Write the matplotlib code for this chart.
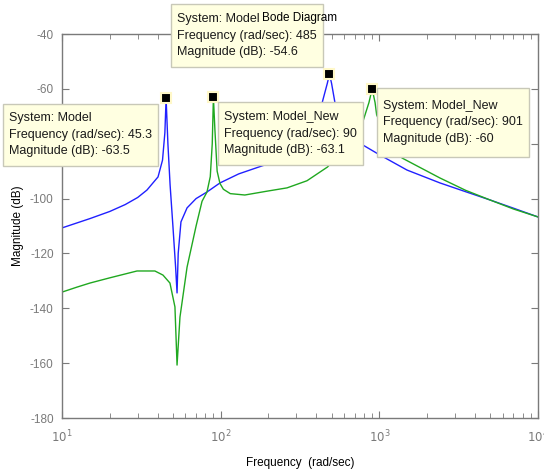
import matplotlib
matplotlib.use("Agg")
import matplotlib.pyplot as plt
from matplotlib.patches import Rectangle
from matplotlib.ticker import LogLocator, NullFormatter, FixedLocator

plt.rcParams['font.family'] = ['Liberation Sans', 'DejaVu Sans']

# ---- data ----
model_freq = [10, 15, 20, 25, 30, 34.3, 40.3, 43, 44.5, 45.3, 46.5, 48, 50, 52, 53.1,
              54, 56.2, 61.4, 70, 82, 99, 130, 182, 250, 330, 400, 441, 470, 485,
              500, 525, 560, 620, 700, 789, 1000, 1494, 2411, 3500, 4980, 7000, 10000]
model_db = [-110.7, -107.3, -104.7, -102.2, -99.6, -96.9, -92.1, -86, -76, -63.5, -80, -95,
            -110, -125, -134.4, -120, -108.5, -103.4, -100, -97.6, -94.3, -91, -88.1,
            -85.5, -82, -74, -64, -58, -54.6, -58, -65, -70, -74, -77.5, -80.5, -84,
            -89.6, -94.3, -97.5, -100.5, -103.5, -106.7]

new_freq = [10, 12.4, 15, 20, 29.7, 38.5, 43.3, 47.9, 51.5, 53.1, 55.4, 61.4, 70, 76.3, 82,
            86, 88.5, 90, 92, 95, 99, 104, 115, 142, 196, 262, 350, 471, 600, 700, 786,
            860, 901, 940, 962, 1100, 1389, 2411, 3500, 4980, 7000, 10000]
new_db = [-134.1, -132.3, -130.8, -128.9, -126.4, -126.4, -127.9, -130.8, -139.5, -160.7,
          -143.2, -125, -110, -101, -97.6, -92, -80, -63.1, -75, -90, -94.5, -96.6, -98.2,
          -98.7, -97.3, -96.1, -93.5, -88.5, -82, -77, -72.1, -65, -60, -65, -69.5, -77,
          -85.2, -92.5, -97, -100.5, -103.8, -106.7]

tip_system = ["Model", "Model", "Model_New", "Model_New"]
tip_freq = [45.3, 485, 90, 901]
tip_db = [-63.5, -54.6, -63.1, -60]
tip_freq_text = ["45.3", "485", "90", "901"]
tip_db_text = ["-63.5", "-54.6", "-63.1", "-60"]

y_ticks = [-180, -160, -140, -120, -100, -80, -60, -40]
x_ticks = [10, 100, 1000, 10000]
x_tick_labels = ["$10^{1}$", "$10^{2}$", "$10^{3}$", "$10^{4}$"]

# ---- figure ----
W, H = 544, 471
fig = plt.figure(figsize=(W / 100, H / 100), dpi=100)
L, R, T, B = 62, 538, 34, 418
ax = fig.add_axes([L / W, 1 - B / H, (R - L) / W, (B - T) / H])

gray = '#7a7a7a'
ax.semilogx(model_freq, model_db, color='#2020ff', lw=1.0)
ax.semilogx(new_freq, new_db, color='#20a820', lw=1.0)

ax.set_xlim(10, 10000)
ax.set_ylim(-180, -40)
ax.yaxis.set_major_locator(FixedLocator(y_ticks))
ax.set_yticklabels([str(v) for v in y_ticks])
ax.set_xticks(x_ticks)
ax.set_xticklabels(x_tick_labels)
ax.xaxis.set_minor_locator(LogLocator(base=10, subs=range(2, 10)))
ax.xaxis.set_minor_formatter(NullFormatter())

for s in ax.spines.values():
    s.set_color(gray)
    s.set_linewidth(1.0)
ax.tick_params(which='both', direction='in', top=True, right=True, colors=gray,
               labelcolor=gray, labelsize=8.5)
ax.tick_params(which='major', length=5)
ax.tick_params(which='minor', length=3.5)
ax.tick_params(axis='x', pad=8)
ax.tick_params(axis='y', pad=6)

ax.set_xlabel("Frequency  (rad/sec)", fontsize=8.5, color='black', labelpad=8)
ax.set_ylabel("Magnitude (dB)", fontsize=8.5, color='black', labelpad=4)

# datatip markers
ax.plot(tip_freq, tip_db, linestyle='none', marker='s', markersize=7.5,
        markerfacecolor='black', markeredgecolor='#fff8c8', markeredgewidth=1.5,
        clip_on=False, zorder=10)

# datatip boxes (pixel layout)
boxes = [(3, 104, 158, 166), (171, 4, 323, 67), (218, 102, 363, 165), (377, 88, 529, 157)]
for (x0, y0, x1, y1), sysname, ft, dt in zip(boxes, tip_system, tip_freq_text, tip_db_text):
    rect = Rectangle((x0 / W, 1 - y1 / H), (x1 - x0) / W, (y1 - y0) / H,
                     transform=fig.transFigure, facecolor='#ffffe1',
                     edgecolor='#c8c8b8', linewidth=1.0, zorder=5)
    fig.patches.append(rect)
    txt = "System: %s\nFrequency (rad/sec): %s\nMagnitude (dB): %s" % (sysname, ft, dt)
    fig.text((x0 + 6) / W, 1 - ((y0 + y1) / 2) / H, txt, ha='left', va='center',
             fontsize=9, color='#1a1a1a', linespacing=1.5, zorder=6)

fig.text(((L + R) / 2) / W, 1 - 18 / H, "Bode Diagram", ha='center', va='center',
         fontsize=8.5, color='black', zorder=7)

fig.savefig("out.png", dpi=100)
